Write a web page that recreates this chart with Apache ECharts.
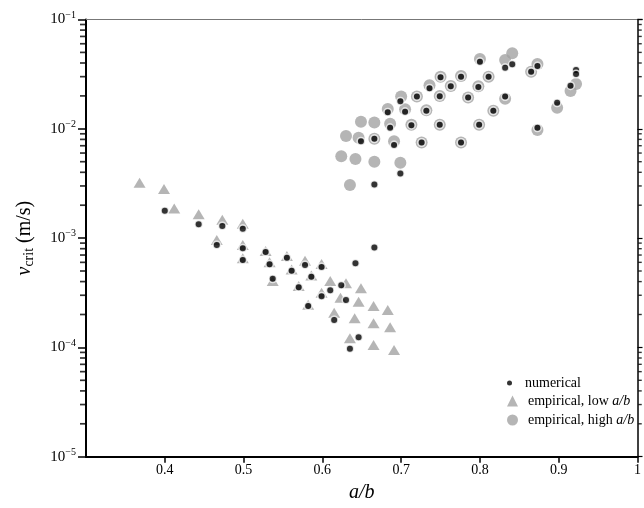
<!DOCTYPE html>
<html>
<head>
<meta charset="utf-8">
<script src="https://cdn.jsdelivr.net/npm/echarts@6/dist/echarts.min.js"></script>
<style>
html, body { margin: 0; padding: 0; background: #fff; }
#chart { width: 644px; height: 508px; }
</style>
</head>
<body>
<div id="chart"></div>
<script>
// x ticks and y decades
var xTicks = [0.4, 0.5, 0.6, 0.7, 0.8, 0.9, 1.0];
var yExps = [-5, -4, -3, -2, -1];
var minorMult = [2, 3, 4, 5, 6, 7, 8, 9];

// numerical
var numX = [0.8, 0.832, 0.841, 0.873, 0.865, 0.922, 0.922, 0.915, 0.898, 0.873,
    0.75, 0.776, 0.811, 0.736, 0.763, 0.798, 0.699, 0.72, 0.749, 0.785, 0.832,
    0.683, 0.705, 0.732, 0.817, 0.686, 0.713, 0.749, 0.799,
    0.649, 0.666, 0.691, 0.726, 0.776, 0.699, 0.666, 0.666, 0.642,
    0.4, 0.443, 0.473, 0.499, 0.466, 0.499, 0.499, 0.528, 0.555, 0.578, 0.599,
    0.533, 0.561, 0.537, 0.586, 0.570, 0.61, 0.624, 0.599, 0.63, 0.582, 0.615,
    0.646, 0.635];
var numY = [0.0411, 0.0362, 0.0389, 0.0375, 0.0333, 0.0345, 0.0317, 0.0248, 0.0173, 0.0102,
    0.0296, 0.030, 0.030, 0.0235, 0.0245, 0.0241, 0.0179, 0.0197, 0.0198, 0.0193, 0.0197,
    0.0142, 0.0143, 0.0146, 0.0146, 0.0102, 0.0108, 0.0109, 0.0109,
    0.0077, 0.0081, 0.0071, 0.0075, 0.0075, 0.0039, 0.0031, 0.00082, 0.00059,
    0.00178, 0.00134, 0.00129, 0.00122, 0.000865, 0.000807, 0.00063, 0.000746, 0.000662, 0.000568, 0.000544,
    0.000575, 0.000503, 0.000425, 0.000443, 0.000355, 0.000333, 0.00037, 0.000294, 0.000272, 0.000239, 0.000178,
    0.000124, 0.0000973];

// empirical, low a/b
var lowX = [0.368, 0.399, 0.412, 0.443, 0.473, 0.499, 0.466, 0.499, 0.499, 0.528,
    0.555, 0.578, 0.599, 0.533, 0.561, 0.537, 0.586, 0.570, 0.61, 0.63, 0.649,
    0.599, 0.623, 0.646, 0.665, 0.683, 0.582, 0.615, 0.641, 0.665, 0.686,
    0.635, 0.665, 0.691];
var lowY = [0.00321, 0.00281, 0.00187, 0.00165, 0.00147, 0.00135, 0.00096, 0.000865, 0.000653, 0.000762,
    0.000686, 0.000621, 0.00058, 0.0006, 0.000515, 0.000405, 0.000455, 0.000365, 0.000405, 0.000386, 0.000347,
    0.000316, 0.000285, 0.000262, 0.000239, 0.00022, 0.000245, 0.000208, 0.000185, 0.000166, 0.000153,
    0.000121, 0.000105, 0.0000946];

// empirical, high a/b
var highX = [0.8, 0.832, 0.841, 0.873, 0.865, 0.915, 0.922, 0.898, 0.873,
    0.75, 0.776, 0.811, 0.736, 0.763, 0.798, 0.7, 0.72, 0.749, 0.785, 0.832,
    0.683, 0.705, 0.732, 0.817, 0.649, 0.666, 0.686, 0.713, 0.749, 0.799,
    0.63, 0.646, 0.666, 0.691, 0.726, 0.776, 0.624, 0.642, 0.666, 0.699, 0.635];
var highY = [0.0435, 0.0426, 0.0491, 0.0392, 0.0333, 0.0222, 0.0257, 0.0156, 0.00975,
    0.030, 0.0304, 0.030, 0.025, 0.0246, 0.0245, 0.0197, 0.0197, 0.020, 0.0193, 0.0188,
    0.0152, 0.0151, 0.0148, 0.0146, 0.0116, 0.0114, 0.0111, 0.0109, 0.0109, 0.0109,
    0.0086, 0.0083, 0.0081, 0.0077, 0.0075, 0.0075, 0.0056, 0.0053, 0.0050, 0.0049, 0.00306];

function pairs(xs, ys) {
    var out = [];
    for (var i = 0; i < xs.length; i++) out.push([xs[i], ys[i]]);
    return out;
}

// minor tick positions of the log axes (2..9 x 10^e) at the left and right edges
function minorAt(x) {
    var out = [];
    for (var e = 0; e < yExps.length - 1; e++) {
        for (var m = 0; m < minorMult.length; m++) {
            out.push([x, minorMult[m] * Math.pow(10, yExps[e])]);
        }
    }
    return out;
}

var serif = 'Liberation Serif';
var grey = '#a3a3a3';

var myChart = echarts.init(document.getElementById('chart'));
var option = {
    animation: false,
    grid: { left: 86, right: 4, top: 19.5, bottom: 51.3, containLabel: false },
    xAxis: [{
        type: 'value',
        min: 0.3, max: 1.0, interval: 0.1,
        name: 'a/b',
        nameLocation: 'middle',
        nameGap: 23,
        nameTextStyle: { fontFamily: serif, fontSize: 20, fontStyle: 'italic', color: '#000' },
        axisLine: { lineStyle: { color: '#000', width: 2 } },
        axisTick: { inside: false, length: 6, lineStyle: { color: '#000', width: 1.5 }, customValues: xTicks },
        axisLabel: {
            fontFamily: serif, fontSize: 14, color: '#000', margin: 7,
            customValues: xTicks,
            formatter: function (v) { return String(+v.toFixed(1)); }
        },
        splitLine: { show: false }
    }, {
        type: 'value',
        position: 'top',
        min: 0.3, max: 1.0,
        axisLine: { lineStyle: { color: '#777', width: 1 } },
        axisTick: { show: false },
        axisLabel: { show: false },
        splitLine: { show: false }
    }],
    yAxis: [{
        type: 'log',
        logBase: 10,
        min: 1e-5, max: 0.1,
        name: '{v|v}{sub|crit} (m/s)',
        nameLocation: 'middle',
        nameGap: 49,
        nameRotate: 90,
        nameTextStyle: {
            fontFamily: serif, fontSize: 20, color: '#000',
            rich: {
                v: { fontFamily: serif, fontSize: 20, fontStyle: 'italic', lineHeight: 24 },
                sub: { fontFamily: serif, fontSize: 14, padding: [9, 0, 0, 0], lineHeight: 24 }
            }
        },
        axisLine: { lineStyle: { color: '#000', width: 2 } },
        axisTick: { length: 8, lineStyle: { color: '#000', width: 1.5 } },
        axisLabel: {
            fontFamily: serif, fontSize: 15, color: '#000', margin: 10,
            formatter: function (v) {
                var e = Math.round(Math.log10(v));
                return yExps.indexOf(e) >= 0 ? '10{sup|\u2212' + Math.abs(e) + '}' : '';
            },
            rich: { sup: { fontFamily: serif, fontSize: 10, padding: [0, 0, 9, 0] } }
        },
        splitLine: { show: false }
    }, {
        type: 'log',
        logBase: 10,
        position: 'right',
        min: 1e-5, max: 0.1,
        axisLine: { lineStyle: { color: '#000', width: 1.5 } },
        axisTick: { length: 5, lineStyle: { color: '#000', width: 1.2 } },
        axisLabel: { show: false },
        splitLine: { show: false }
    }],
    legend: [{
        data: ['numerical'],
        orient: 'vertical',
        left: 507, top: 375,
        padding: 0,
        itemWidth: 11, itemHeight: 5,
        itemStyle: { borderWidth: 0 },
        textStyle: { fontFamily: serif, fontSize: 14, color: '#000', lineHeight: 16, padding: [0, 0, 0, 5] }
    }, {
        data: ['empirical, low a/b', 'empirical, high a/b'],
        orient: 'vertical',
        left: 507, top: 393,
        padding: 0,
        itemGap: 3,
        itemWidth: 11, itemHeight: 11,
        formatter: function (name) { return name.replace('a/b', '{i|a/b}'); },
        textStyle: {
            fontFamily: serif, fontSize: 14, color: '#000', lineHeight: 16, padding: [0, 0, 0, 5],
            rich: { i: { fontFamily: serif, fontSize: 14, fontStyle: 'italic' } }
        }
    }],
    series: [{
        name: 'minorLeft',
        type: 'scatter',
        silent: true,
        clip: false,
        symbol: 'rect',
        symbolSize: [5, 1.7],
        symbolOffset: [-3.5, 0],
        itemStyle: { color: '#000' },
        data: minorAt(0.3),
        z: 5
    }, {
        name: 'minorRight',
        type: 'scatter',
        silent: true,
        clip: false,
        symbol: 'rect',
        symbolSize: [3.5, 1.4],
        symbolOffset: [2.5, 0],
        itemStyle: { color: '#000' },
        data: minorAt(1.0),
        z: 5
    }, {
        name: 'empirical, low a/b',
        type: 'scatter',
        symbol: 'triangle',
        symbolSize: [12, 10],
        itemStyle: { color: grey },
        data: pairs(lowX, lowY),
        z: 2
    }, {
        name: 'empirical, high a/b',
        type: 'scatter',
        symbol: 'circle',
        symbolSize: 12,
        itemStyle: { color: grey },
        data: pairs(highX, highY),
        z: 2
    }, {
        name: 'numerical',
        type: 'scatter',
        symbol: 'circle',
        symbolSize: 7.5,
        itemStyle: { color: '#000', borderColor: '#fff', borderWidth: 1.5 },
        data: pairs(numX, numY),
        z: 3
    }]
};
myChart.setOption(option);
</script>
</body>
</html>
